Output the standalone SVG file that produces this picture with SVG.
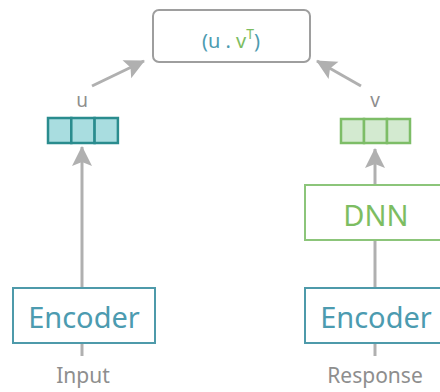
<svg xmlns="http://www.w3.org/2000/svg" width="440" height="392" viewBox="0 0 440 392">
  <defs>
    <marker id="head" viewBox="0 0 10 10" refX="9.5" refY="5" markerWidth="20" markerHeight="20" markerUnits="userSpaceOnUse" orient="auto" overflow="visible">
      <path d="M0,0 L10,5 L0,10 L2,5 Z" fill="#b0b0b0"/>
    </marker>
    <style>
      text { font-family: "Noto Sans", "DejaVu Sans", sans-serif; text-anchor: middle; }
      .conn { stroke: #b0b0b0; stroke-width: 3; fill: none; }
      .arrow { marker-end: url(#head); }
      .teal { fill: #4c9bb0; }
      .green { fill: #7dbd62; }
      .label { fill: #8e8e8e; }
      .enc { fill: #fff; stroke: #4e9aaa; stroke-width: 2; }
      .dnn { fill: #fff; stroke: #8cc57a; stroke-width: 2; }
      .ucell { fill: #a9dde0; stroke: #2a8c8e; stroke-width: 2.5; }
      .vcell { fill: #d3ead0; stroke: #7dbd67; stroke-width: 2.5; }
    </style>
  </defs>

  <!-- connectors -->
  <g id="connectors">
    <line class="conn" x1="82" y1="356" x2="82" y2="343"/>
    <line class="conn arrow" x1="82" y1="288" x2="82" y2="147"/>
    <line class="conn" x1="375" y1="356" x2="375" y2="343"/>
    <line class="conn" x1="375" y1="288" x2="375" y2="240"/>
    <line class="conn arrow" x1="375" y1="185" x2="375" y2="149"/>
    <line class="conn arrow" x1="92" y1="86" x2="144" y2="61"/>
    <line class="conn arrow" x1="361" y1="86" x2="317" y2="61"/>
  </g>

  <!-- similarity score -->
  <g id="score">
    <rect x="153" y="10" width="157" height="52" rx="6" fill="#fff" stroke="#9e9e9e" stroke-width="2"/>
    <text x="231" y="48" font-size="20"><tspan class="teal">(u . </tspan><tspan class="green">v</tspan><tspan class="green" font-size="14" dy="-9">T</tspan><tspan class="teal" dy="9">)</tspan></text>
  </g>

  <!-- input embedding u -->
  <g id="u">
    <text class="label" x="82" y="107" font-size="19">u</text>
    <rect class="ucell" x="48" y="118" width="23.3" height="25"/>
    <rect class="ucell" x="71.3" y="118" width="23.3" height="25"/>
    <rect class="ucell" x="94.6" y="118" width="23.3" height="25"/>
  </g>

  <!-- response embedding v -->
  <g id="v">
    <text class="label" x="375" y="107" font-size="19">v</text>
    <rect class="vcell" x="341" y="119" width="23" height="24"/>
    <rect class="vcell" x="364" y="119" width="23" height="24"/>
    <rect class="vcell" x="387" y="119" width="23" height="24"/>
  </g>

  <!-- DNN -->
  <g id="dnn">
    <rect class="dnn" x="305" y="185" width="142" height="55"/>
    <text class="green" x="376" y="226" font-size="29">DNN</text>
  </g>

  <!-- encoders -->
  <g id="encoder-input">
    <rect class="enc" x="13" y="288" width="142" height="55"/>
    <text class="teal" x="84" y="328" font-size="29">Encoder</text>
  </g>
  <g id="encoder-response">
    <rect class="enc" x="305" y="288" width="142" height="55"/>
    <text class="teal" x="376" y="328" font-size="29">Encoder</text>
  </g>

  <!-- inputs -->
  <g id="input">
    <text class="label" x="83" y="383" font-size="21">Input</text>
  </g>
  <g id="response">
    <text class="label" x="375" y="383" font-size="21">Response</text>
  </g>
</svg>
